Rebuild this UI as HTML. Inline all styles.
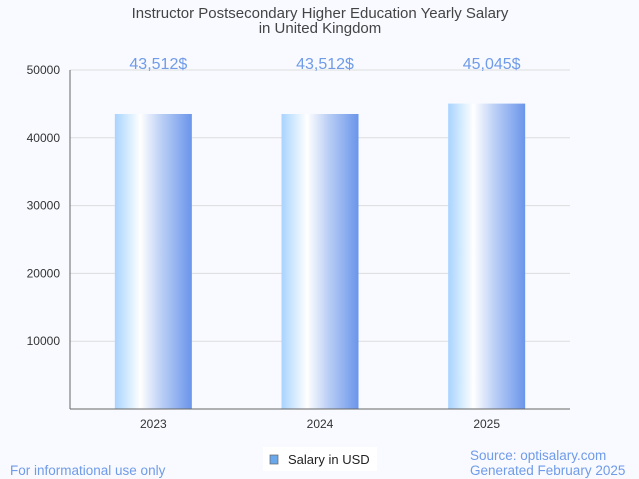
<!DOCTYPE html>
<html><head><meta charset="utf-8"><style>
body{margin:0;background:#f8faff;font-family:"Liberation Sans",sans-serif}
svg{display:block}
</style></head><body>
<svg width="639" height="479" id="c">
<defs><linearGradient id="g" x1="0" x2="1" y1="0" y2="0">
<stop offset="0" stop-color="#a9d3ff"/><stop offset="0.18" stop-color="#d6ecff"/><stop offset="0.33" stop-color="#ffffff"/><stop offset="0.6" stop-color="#bcd0f5"/><stop offset="1" stop-color="#6a95ea"/></linearGradient></defs>
<text x="320" y="18" text-anchor="middle" font-size="15" fill="#444">Instructor Postsecondary Higher Education Yearly Salary</text>
<text x="320" y="33" text-anchor="middle" font-size="15" fill="#444">in United Kingdom</text>
<g id="grid"></g><g id="bars"></g>
<line x1="70" y1="70" x2="70" y2="409" stroke="#666"/>
<line x1="70" y1="409" x2="570" y2="409" stroke="#666"/>
<rect x="263" y="447" width="114" height="24" fill="#fff"/>
<rect x="270" y="455" width="8" height="9" fill="#6aa8ec" stroke="#666" stroke-width="0.7"/>
<text x="288" y="464" font-size="13" fill="#222">Salary in USD</text>
<text x="10" y="475" font-size="13.5" fill="#6f9be8">For informational use only</text>
<text x="470" y="460" font-size="13.5" fill="#6f9be8">Source: optisalary.com</text>
<text x="470" y="475" font-size="13.5" fill="#6f9be8">Generated February 2025</text>
</svg>
<script>
const categories=["2023","2024","2025"];
const values=[43512,43512,45045];
const valueLabels=["43,512$","43,512$","45,045$"];
const yTicks=[10000,20000,30000,40000,50000];
const NS="http://www.w3.org/2000/svg";
const y=v=>409-v*339/50000;
const xc=i=>70+(i+0.5)*500/3;
function mk(t,a,p){const e=document.createElementNS(NS,t);for(const k in a)e.setAttribute(k,a[k]);p.appendChild(e);return e;}
const grid=document.getElementById('grid'),bars=document.getElementById('bars');
yTicks.forEach(v=>{
const l=mk('line',{x1:70,x2:570,y1:y(v),y2:y(v),stroke:'#ddd'},grid);


const t=mk('text',{x:60,y:y(v)+4,'text-anchor':'end','font-size':12,fill:'#333'},grid);
t.textContent=v;


});
categories.forEach((c,i)=>{
const r=mk('rect',{x:xc(i)-38.5,y:y(values[i]),width:77,height:409-y(values[i]),fill:'url(#g)'},bars);


const t=mk('text',{x:xc(i)+5,y:69,'text-anchor':'middle','font-size':16,fill:'#6f9be8'},bars);
t.textContent=valueLabels[i];


const xl=mk('text',{x:xc(i),y:428,'text-anchor':'middle','font-size':12,fill:'#333'},bars);
xl.textContent=c;


});
</script>
</body></html>
